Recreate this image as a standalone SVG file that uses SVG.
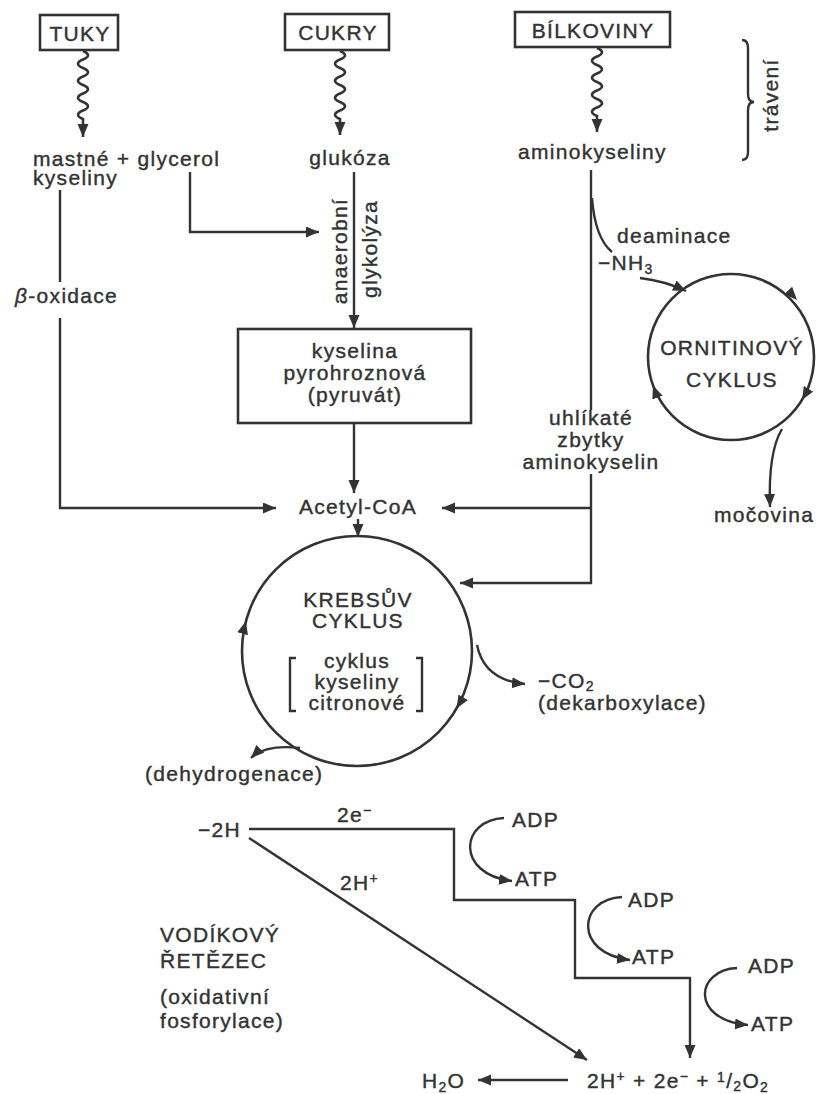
<svg xmlns="http://www.w3.org/2000/svg" width="819" height="1094" viewBox="0 0 819 1094">
<defs>
<style>
text{font-family:"Liberation Sans",Arial,sans-serif;font-size:21px;letter-spacing:1.3px;fill:#333;stroke:#333;stroke-width:0.4}
.m{text-anchor:middle}
.box{fill:none;stroke:#333;stroke-width:2.6}
.ln{fill:none;stroke:#333;stroke-width:2.4}
.wv{fill:none;stroke:#333;stroke-width:2.6}
.cyc{fill:none;stroke:#333;stroke-width:2.6}
.arr{marker-end:url(#ah)}
.tick{fill:none;stroke:none;marker-end:url(#ah)}
.sm{font-size:14px}
</style>
<marker id="ah" markerUnits="userSpaceOnUse" markerWidth="14" markerHeight="12" refX="13" refY="5.5" orient="auto">
<path d="M0,0 L13,5.5 L0,11 z" fill="#333"/>
</marker>
</defs>
<rect width="819" height="1094" fill="#fff"/>

<g id="tuky"><rect class="box" x="40" y="15" width="78" height="35"/><text class="m" x="80" y="41">TUKY</text></g>
<g id="cukry"><rect class="box" x="285" y="14" width="104" height="36"/><text class="m" x="338" y="40">CUKRY</text></g>
<g id="bilkoviny"><rect class="box" x="515" y="12" width="155" height="35"/><text class="m" x="593" y="38">BÍLKOVINY</text></g>

<g id="mastne-glycerol"><text x="33" y="166">mastné + glycerol</text><text x="33" y="185">kyseliny</text></g>
<g id="glukoza"><text class="m" x="350" y="165">glukóza</text></g>
<g id="aminokyseliny"><text x="518" y="159">aminokyseliny</text></g>

<g id="traveni"><path class="ln" d="M742,40 Q748,40 748,48 V94 Q748,102 754,102 Q748,102 748,110 V152 Q748,160 742,160"/><text class="m" transform="translate(778,95) rotate(-90)">trávení</text></g>

<g id="beta-oxidace"><text x="15" y="303"><tspan font-style="italic">β</tspan>-oxidace</text></g>
<g id="glykolyza"><text class="m" transform="translate(347,251) rotate(-90)">anaerobní</text><text class="m" transform="translate(377,249) rotate(-90)">glykolýza</text></g>

<g id="pyruvat"><rect class="box" x="238" y="329" width="233" height="94"/><text class="m" x="355" y="358">kyselina</text><text class="m" x="355" y="380">pyrohroznová</text><text class="m" x="355" y="402">(pyruvát)</text></g>

<g id="acetylcoa"><text class="m" x="358" y="514">Acetyl-CoA</text></g>

<g id="deaminace"><text x="617" y="243">deaminace</text><text x="598" y="270">−NH<tspan class="sm" dy="4">3</tspan></text></g>

<g id="uhlikate"><text class="m" x="591" y="425">uhlíkaté</text><text class="m" x="591" y="447">zbytky</text><text class="m" x="591" y="469">aminokyselin</text></g>

<g id="ornitin"><circle class="cyc" cx="731" cy="357" r="83"/><text class="m" x="732" y="355">ORNITINOVÝ</text><text class="m" x="732" y="387">CYKLUS</text></g>
<g id="mocovina"><text x="714" y="522">močovina</text></g>

<g id="krebs"><circle class="cyc" cx="357" cy="651" r="115"/><text class="m" x="358" y="607">KREBSŮV</text><text class="m" x="358" y="628">CYKLUS</text><path class="ln" d="M296,658 H290 V711 H296 M416,658 H422 V711 H416"/><text class="m" x="357" y="668">cyklus</text><text class="m" x="357" y="689">kyseliny</text><text class="m" x="357" y="710">citronové</text></g>

<g id="co2"><text x="538" y="688">−CO<tspan class="sm" dy="3">2</tspan></text><text x="538" y="710">(dekarboxylace)</text></g>
<g id="dehydrogenace"><text x="145" y="781">(dehydrogenace)</text></g>

<g id="minus2h"><text x="198" y="837">−2H</text></g>
<g id="labels-chain"><text x="337" y="822">2e<tspan class="sm" dy="-7">−</tspan></text><text x="340" y="890">2H<tspan class="sm" dy="-7">+</tspan></text></g>
<g id="vodikovy"><text x="160" y="942">VODÍKOVÝ</text><text x="160" y="968">ŘETĚZEC</text><text x="160" y="1004">(oxidativní</text><text x="160" y="1028">fosforylace)</text></g>

<g id="atp1"><text x="512" y="827">ADP</text><text x="515" y="886">ATP</text></g>
<g id="atp2"><text x="628" y="907">ADP</text><text x="632" y="964">ATP</text></g>
<g id="atp3"><text x="748" y="973">ADP</text><text x="751" y="1031">ATP</text></g>

<g id="h2o"><text x="422" y="1088">H<tspan class="sm" dy="4">2</tspan><tspan dy="-4">O</tspan></text></g>
<g id="products"><text x="587" y="1088">2H<tspan class="sm" dy="-7">+</tspan><tspan dy="7"> + 2e</tspan><tspan class="sm" dy="-7">−</tspan><tspan dy="7"> + </tspan><tspan class="sm" dy="-6">1</tspan><tspan dy="6">/</tspan><tspan class="sm" dy="3">2</tspan><tspan dy="-3">O</tspan><tspan class="sm" dy="4">2</tspan></text></g>

<g id="connectors">
<path class="wv arr" d="M83,51 q10,4.25 0,8.5 q-10,4.25 0,8.5 q10,4.25 0,8.5 q-10,4.25 0,8.5 q10,4.25 0,8.5 q-10,4.25 0,8.5 q10,4.25 0,8.5 q-10,4.25 0,8.5 l0,18"/>
<path class="wv arr" d="M340,51 q10,4.25 0,8.5 q-10,4.25 0,8.5 q10,4.25 0,8.5 q-10,4.25 0,8.5 q10,4.25 0,8.5 q-10,4.25 0,8.5 q10,4.25 0,8.5 q-10,4.25 0,8.5 l0,16"/>
<path class="wv arr" d="M597,48 q10,4.25 0,8.5 q-10,4.25 0,8.5 q10,4.25 0,8.5 q-10,4.25 0,8.5 q10,4.25 0,8.5 q-10,4.25 0,8.5 q10,4.25 0,8.5 q-10,4.25 0,8.5 l0,16"/>
<path class="ln" d="M60,190 V282"/>
<path class="ln arr" d="M60,318 V508 H276"/>
<path class="ln arr" d="M190,172 V232 H319"/>
<path class="ln arr" d="M354,172 V328"/>
<path class="ln arr" d="M354,423 V493"/>
<path class="ln arr" d="M358,519 V537"/>
<path class="ln" d="M591,170 V410"/>
<path class="ln arr" d="M591,474 V583 H460"/>
<path class="ln arr" d="M591,508 H442"/>
<path class="ln" d="M592,198 Q595,238 612,252"/>
<path class="ln arr" d="M640,278 Q665,281 686,291"/>
<path class="tick" d="M795.6,298.5 L797,300"/>
<path class="tick" d="M803,398.3 L802,400"/>
<path class="tick" d="M653.7,387.3 L653,385.4"/>
<path class="ln arr" d="M782,429 Q768,452 770,507"/>
<path class="tick" d="M245.4,623.1 L245.9,621.2"/>
<path class="tick" d="M457.6,706.8 L456.6,708.5"/>
<path class="ln arr" d="M477,645 Q484,680 525,684"/>
<path class="ln arr" d="M300,748 Q265,744 251,758"/>
<path class="ln arr" d="M249,829 H454 V900 H575 V978 H690 V1058"/>
<path class="ln arr" d="M249,838 L587,1060"/>
<path class="ln arr" d="M504,818 C460,820 455,874 512,881"/>
<path class="ln arr" d="M622,897 C578,899 573,953 630,960"/>
<path class="ln arr" d="M737,968 C695,970 690,1020 748,1025"/>
<path class="ln arr" d="M568,1080 H478"/>
</g>
</svg>
